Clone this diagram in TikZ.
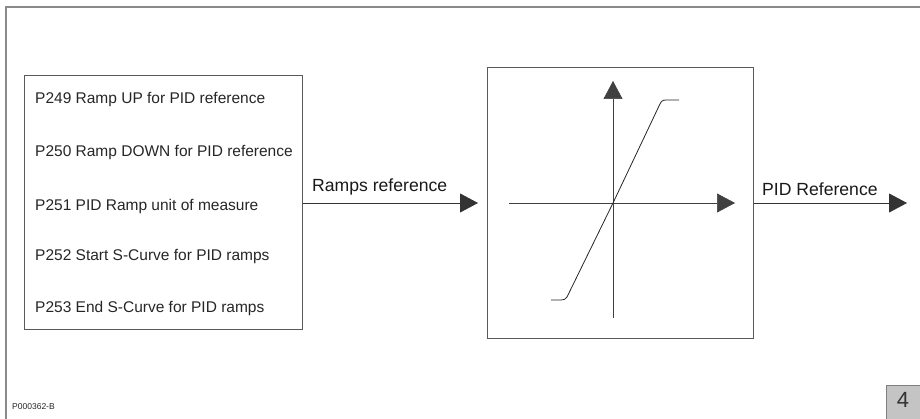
\documentclass[tikz,border=0pt]{standalone}
\usepackage{fontspec}
\setmainfont{Liberation Sans}
\usetikzlibrary{arrows.meta}
\definecolor{frame}{HTML}{8A8A8A}
\definecolor{boxline}{HTML}{5A5A5A}
\definecolor{tabfill}{HTML}{C4C4C4}
\begin{document}
\begin{tikzpicture}[x=1pt,y=-1pt,
  param/.style={anchor=west,inner sep=0pt,font=\fontsize{15.5}{15.5}\selectfont,text=black!85},
  lbl/.style={anchor=south west,inner sep=0pt,font=\fontsize{17.6}{17.6}\selectfont,text=black!90},
  blk/.style={draw=boxline,line width=0.9pt},
  sig/.style={draw=black!80,line width=0.8pt,-{Triangle[length=18pt,width=19pt]}},
  axis/.style={draw=black!75,line width=0.7pt}]
\useasboundingbox (0,0) rectangle (920,419);
% frame
\draw[frame,line width=1.5pt] (6,419) -- (6,7) -- (920,7);
% parameter block
\node[blk,minimum width=278pt,minimum height=254pt,anchor=north west,inner sep=0pt] (pbox) at (24,75) {};
\node[param] (p249) at (35,100) {P249 Ramp UP for PID reference};
\node[param] (p250) at (35,153) {P250 Ramp DOWN for PID reference};
\node[param] (p251) at (35,206) {P251 PID Ramp unit of measure};
\node[param] (p252) at (35,257) {P252 Start S-Curve for PID ramps};
\node[param] (p253) at (35,308) {P253 End S-Curve for PID ramps};
% ramp block
\node[blk,minimum width=266pt,minimum height=271pt,anchor=north west,inner sep=0pt] (rbox) at (487,67) {};
\coordinate (in) at (478,203);
\coordinate (out) at (907,203);
\draw[sig] (pbox.east |- in) -- (in);
\node[lbl] (rampslbl) at (312,195) {Ramps reference};
\draw[sig] (rbox.east |- out) -- (out);
\node[lbl] (pidlbl) at (762,196) {PID Reference};
% axes
\coordinate (o) at (613,203);
\coordinate (xl) at (509,203);
\coordinate (xr) at (735,203);
\coordinate (yb) at (613,318);
\coordinate (yt) at (613,81);
\draw[axis,-{Triangle[length=18pt,width=19pt]}] (xl) -- (xr);
\draw[axis,-{Triangle[length=18pt,width=19pt]}] (yb) -- (yt);
% curve
\coordinate (c3) at (679,100);
\draw[black!85,line width=0.8pt] (551,300) -- (561,300) .. controls (564,300) and (565,299.5) .. (567,297) -- (o) -- (659,106) .. controls (661,101.5) and (662,100) .. (666,100) -- (c3);
% footer
\node[anchor=west,inner sep=0pt,font=\fontsize{8.5}{8.5}\selectfont,text=black!85] (code) at (12,407) {P000362-B};
\node[draw=black!50,fill=tabfill,line width=1pt,minimum width=34pt,minimum height=34pt,anchor=north west,inner sep=0pt] (tab) at (886,385) {};
\node[font=\fontsize{22}{22}\selectfont,text=black!80,inner sep=0pt] (tabnum) at (903,400) {4};
\end{tikzpicture}
\end{document}
